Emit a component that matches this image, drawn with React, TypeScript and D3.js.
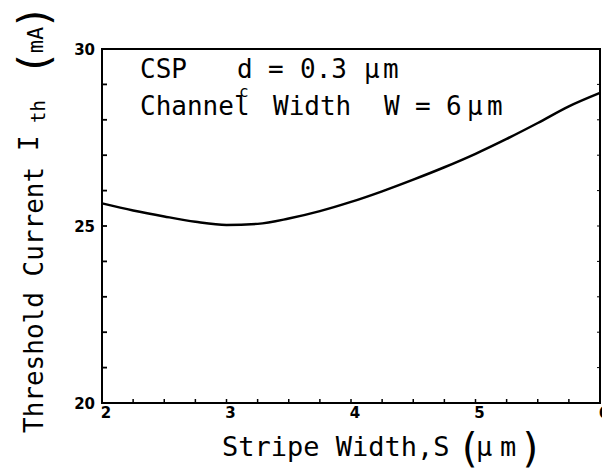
import React from "react";
import * as d3 from "d3";

// Threshold current vs. stripe width for a CSP laser (d_c = 0.3 µm, W = 6 µm)
const stripeWidth = [2, 2.25, 2.5, 2.75, 3, 3.25, 3.5, 3.75, 4, 4.25, 4.5, 4.75, 5, 5.25, 5.5, 5.75, 6];
const thresholdCurrent = [25.64, 25.44, 25.27, 25.12, 25.03, 25.06, 25.21, 25.42, 25.68, 25.98, 26.31, 26.66, 27.04, 27.46, 27.91, 28.38, 28.76];
const xTickValues = [2, 3, 4, 5, 6];
const yTickValues = [20, 25, 30];

const W = 602;
const H = 476;
const plot = { left: 102, right: 600, top: 49, bottom: 403 };
const mono = "'DejaVu Sans Mono', monospace";
const tickFont = "'DejaVu Sans', sans-serif";

export default function App() {
  const x = d3.scaleLinear().domain([2, 6]).range([plot.left, plot.right]);
  const y = d3.scaleLinear().domain([20, 30]).range([plot.bottom, plot.top]);

  const points = stripeWidth.map((s, i) => [s, thresholdCurrent[i]] as [number, number]);
  const path = d3
    .line<[number, number]>()
    .x((d) => x(d[0]))
    .y((d) => y(d[1]))
    .curve(d3.curveMonotoneX)(points);

  const xMinor = d3.range(2, 6.001, 0.25);
  const yMinor = d3.range(20, 30.001, 1);

  return (
    <svg
      width={W}
      height={H}
      viewBox={`0 0 ${W} ${H}`}
      style={{ position: "absolute", left: 0, top: 0, background: "#fff" }}
    >
      <rect x={0} y={0} width={W} height={H} fill="#fff" />

      {/* frame */}
      <rect
        x={plot.left}
        y={plot.top}
        width={plot.right - plot.left}
        height={plot.bottom - plot.top}
        fill="none"
        stroke="#000"
        strokeWidth={2}
      />

      {/* bottom ticks (inward) */}
      {xMinor.map((v) => (
        <line key={`xb${v}`} x1={x(v)} x2={x(v)} y1={plot.bottom} y2={plot.bottom - 4} stroke="#000" strokeWidth={1.5} />
      ))}
      {/* left ticks (inward) */}
      {yMinor.map((v) => (
        <line key={`yl${v}`} x1={plot.left} x2={plot.left + 5} y1={y(v)} y2={y(v)} stroke="#000" strokeWidth={1.8} />
      ))}
      {/* right ticks (inward, small) */}
      {yMinor.map((v) => (
        <line key={`yr${v}`} x1={plot.right} x2={plot.right - 3} y1={y(v)} y2={y(v)} stroke="#000" strokeWidth={1} />
      ))}

      {/* tick labels */}
      {xTickValues.map((v) => (
        <text key={`xl${v}`} x={x(v) + 4} y={418} textAnchor="middle" fontFamily={tickFont} fontWeight="bold" fontSize={15} fill="#000">
          {v}
        </text>
      ))}
      {yTickValues.map((v) => (
        <text key={`yt${v}`} x={95} y={y(v) + 6} textAnchor="end" fontFamily={tickFont} fontWeight="bold" fontSize={15} fill="#000">
          {v}
        </text>
      ))}

      {/* curve */}
      <path d={path ?? ""} fill="none" stroke="#000" strokeWidth={2.5} strokeLinejoin="round" />

      {/* annotation */}
      <g fontFamily={mono} fontSize={26} fill="#000">
        <text x={140} y={78}>CSP</text>
        <text x={237} y={78}>d</text>
        <text x={239} y={97} fontSize={16}>c</text>
        <text x={268} y={78}>=</text>
        <text x={300} y={78}>0.3</text>
        <text x={364} y={78}>μ</text>
        <text x={383} y={78}>m</text>

        <text x={140} y={115}>Channel</text>
        <text x={273} y={115}>Width</text>
        <text x={384} y={115}>W</text>
        <text x={415} y={115}>=</text>
        <text x={446} y={115}>6</text>
        <text x={467} y={115}>μ</text>
        <text x={487} y={115}>m</text>
      </g>

      {/* x axis title */}
      <g fontFamily={mono} fill="#000">
        <text x={222} y={456} fontSize={27}>Stripe Width,S</text>
        <text x={469} y={462} fontSize={40} textAnchor="middle">(</text>
        <text x={476} y={456} fontSize={27}>μ</text>
        <text x={500} y={456} fontSize={27}>m</text>
        <text x={531} y={462} fontSize={40} textAnchor="middle">)</text>
      </g>

      {/* y axis title */}
      <g fontFamily={mono} fill="#000">
        <text transform="translate(43,433) rotate(-90)" fontSize={26}>Threshold Current</text>
        <text transform="translate(38,151) rotate(-90)" fontSize={26}>I</text>
        <text transform="translate(45,123) rotate(-90)" fontSize={19}>th</text>
        <text transform="translate(49,63) rotate(-90)" fontSize={42} textAnchor="middle">(</text>
        <text transform="translate(43,40) rotate(-90)" fontSize={22} textAnchor="middle">mA</text>
        <text transform="translate(49,17) rotate(-90)" fontSize={42} textAnchor="middle">)</text>
      </g>
    </svg>
  );
}
